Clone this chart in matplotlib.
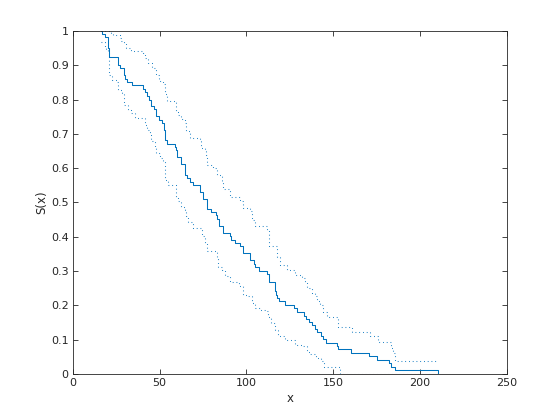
import matplotlib
matplotlib.use("Agg")
import matplotlib.pyplot as plt

# Kaplan-Meier style survivor function
x_main = [16.0, 16.9, 18.6, 20.4, 20.9, 26.1, 27.3, 29.6, 30.2, 31.3, 34.2, 40.5, 41.7, 42.8,
          44.0, 45.1, 46.9, 48.0, 49.7, 51.5, 52.6, 53.2, 54.4, 58.6, 59.2, 59.8, 60.3, 62.2,
          64.6, 65.7, 67.4, 69.2, 73.2, 74.9, 77.2, 79.5, 82.4, 83.0, 84.1, 86.5, 90.5, 91.1,
          93.4, 96.3, 98.0, 102.0, 104.3, 104.9, 107.2, 111.8, 113.0, 116.4, 117.0, 117.6,
          118.7, 122.2, 127.4, 129.1, 133.1, 134.3, 136.0, 137.8, 139.5, 140.6, 142.9, 144.1,
          145.8, 152.2, 152.7, 160.2, 170.6, 175.2, 182.1, 183.3, 185.6, 210.4]
s_main = [1.0, 0.991, 0.982, 0.950, 0.923, 0.902, 0.892, 0.872, 0.861, 0.851, 0.843, 0.832, 0.822,
          0.812, 0.800, 0.782, 0.772, 0.753, 0.741, 0.731, 0.710, 0.683, 0.671, 0.661, 0.652,
          0.642, 0.632, 0.613, 0.581, 0.571, 0.561, 0.551, 0.530, 0.510, 0.481, 0.473, 0.463,
          0.453, 0.432, 0.410, 0.403, 0.391, 0.381, 0.372, 0.352, 0.333, 0.321, 0.311, 0.300,
          0.291, 0.268, 0.243, 0.231, 0.222, 0.213, 0.201, 0.192, 0.181, 0.170, 0.160, 0.152,
          0.142, 0.130, 0.123, 0.111, 0.101, 0.090, 0.082, 0.072, 0.060, 0.052, 0.041, 0.031,
          0.020, 0.011, 0.0]

x_up = [16.0, 21.9, 23.3, 27.1, 28.0, 29.6, 30.9, 33.8, 40.5, 41.5, 43.4, 45.4, 48.2, 49.8, 52.0,
        53.0, 54.0, 59.4, 60.7, 62.6, 64.6, 65.1, 67.4, 73.2, 73.8, 76.1, 77.0, 77.4, 80.5, 83.2,
        85.7, 86.7, 90.5, 96.3, 98.2, 102.0, 103.0, 104.9, 111.6, 113.1, 117.4, 119.3, 123.2,
        128.0, 131.8, 133.7, 135.0, 137.6, 139.5, 140.8, 142.4, 143.9, 146.2, 152.9, 160.6,
        171.2, 176.0, 183.1, 184.6, 185.6, 210.4]
s_up = [1.0, 0.995, 0.990, 0.980, 0.972, 0.965, 0.950, 0.941, 0.936, 0.921, 0.907, 0.892, 0.872,
        0.853, 0.846, 0.815, 0.795, 0.765, 0.756, 0.743, 0.731, 0.707, 0.688, 0.678, 0.659, 0.649,
        0.639, 0.610, 0.600, 0.581, 0.561, 0.539, 0.517, 0.503, 0.483, 0.474, 0.449, 0.430, 0.420,
        0.373, 0.340, 0.318, 0.303, 0.289, 0.279, 0.269, 0.250, 0.235, 0.226, 0.211, 0.201, 0.179,
        0.165, 0.138, 0.123, 0.109, 0.093, 0.075, 0.060, 0.037, 0.037]

x_lo = [16.5, 18.4, 19.0, 20.4, 20.7, 22.3, 25.2, 26.1, 28.1, 29.4, 31.9, 33.8, 35.7, 41.5, 42.8,
        44.4, 45.3, 47.3, 48.2, 50.1, 52.0, 53.0, 54.9, 59.4, 60.7, 62.6, 64.6, 65.1, 66.5, 69.3,
        74.2, 76.1, 77.4, 82.8, 83.8, 85.7, 87.6, 90.5, 95.9, 98.2, 101.0, 103.0, 104.9, 107.8,
        111.2, 112.6, 113.9, 116.4, 118.3, 122.2, 128.0, 132.7, 134.7, 136.6, 140.3, 143.2,
        144.5, 153.9, 210.4]
s_lo = [0.967, 0.955, 0.945, 0.936, 0.872, 0.856, 0.850, 0.829, 0.819, 0.785, 0.770, 0.761, 0.746,
        0.727, 0.712, 0.697, 0.678, 0.659, 0.644, 0.629, 0.620, 0.566, 0.551, 0.517, 0.503, 0.486,
        0.479, 0.459, 0.444, 0.425, 0.401, 0.381, 0.357, 0.342, 0.313, 0.303, 0.286, 0.267, 0.255,
        0.231, 0.226, 0.206, 0.192, 0.185, 0.182, 0.167, 0.148, 0.128, 0.109, 0.099, 0.085, 0.080,
        0.065, 0.058, 0.046, 0.036, 0.021, 0.0, 0.0]

blue = "#0072BD"
grey = "#262626"

fig = plt.figure(figsize=(5.6, 4.2), dpi=100)
ax = fig.add_axes([0.13, 0.11, 0.775, 0.816])

ax.plot(x_main, s_main, drawstyle="steps-post", color=blue, lw=0.75)
ax.plot(x_up, s_up, drawstyle="steps-post", color=blue, lw=0.75, linestyle=(0, (0.8, 2.8)))
ax.plot(x_lo, s_lo, drawstyle="steps-post", color=blue, lw=0.75, linestyle=(0, (0.8, 2.8)))

ax.set_xlim(0, 250)
ax.set_ylim(0, 1)
ax.set_xticks([0, 50, 100, 150, 200, 250])
ax.set_yticks([0, 0.1, 0.2, 0.3, 0.4, 0.5, 0.6, 0.7, 0.8, 0.9, 1])
ax.set_yticklabels(["0", "0.1", "0.2", "0.3", "0.4", "0.5", "0.6", "0.7", "0.8", "0.9", "1"])

ax.tick_params(direction="in", length=3.5, width=0.6, top=True, right=True,
               labelsize=8, colors=grey, pad=3)
for sp in ax.spines.values():
    sp.set_color(grey)
    sp.set_linewidth(0.6)

ax.set_xlabel("x", fontsize=8.5, color=grey, labelpad=3)
ax.set_ylabel("S(x)", fontsize=8.5, color=grey, labelpad=2)

fig.savefig("out.png", dpi=100)
